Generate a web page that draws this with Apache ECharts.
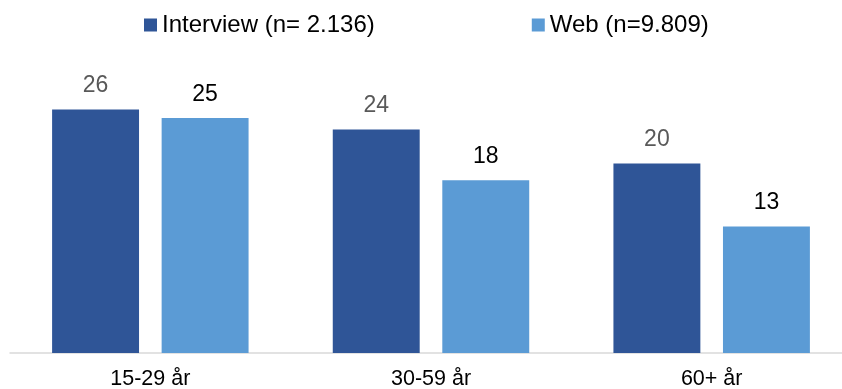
<!DOCTYPE html>
<html>
<head>
<meta charset="utf-8">
<script src="https://cdn.jsdelivr.net/npm/echarts@6/dist/echarts.min.js"></script>
<style>
  html, body { margin: 0; padding: 0; background: #fff; }
  #chart { width: 842px; height: 389px; }
</style>
</head>
<body>
<div id="chart"></div>
<script>
  // 数据
  const categories = ['15-29 år', '30-59 år', '60+ år']
  const interview = [25.8, 23.7, 20.1]
  const web = [24.9, 18.3, 13.4]
  const seriesNames = ['Interview (n= 2.136)', 'Web (n=9.809)']

  const font = 'Liberation Sans, Arial, sans-serif'
  const chart = echarts.init(document.getElementById('chart'))

  const barLabel = (color) => ({
    show: true,
    position: 'top',
    distance: 12,
    color,
    fontSize: 23,
    fontFamily: font,
    formatter: (p) => Math.round(p.value),
  })

  chart.setOption({
    animation: false,
    legend: {
      top: 8,
      left: 139,
      icon: 'rect',
      itemWidth: 13,
      itemHeight: 13,
      itemGap: 157,
      textStyle: { fontSize: 24, fontFamily: font, color: '#000' },
      data: seriesNames,
    },
    grid: { left: 10, right: -10, top: 70, bottom: 36, outerBoundsMode: 'none' },
    xAxis: {
      type: 'category',
      data: categories,
      axisLine: { lineStyle: { color: '#d9d9d9', width: 1.5 } },
      axisTick: { show: false },
      axisLabel: { fontSize: 21.5, fontFamily: font, color: '#000', margin: 15 },
    },
    yAxis: {
      type: 'value',
      min: 0,
      max: 30,
      show: false,
      splitLine: { show: false },
    },
    series: [
      {
        name: seriesNames[0],
        type: 'bar',
        data: interview,
        barGap: '26%',
        barCategoryGap: '30%',
        itemStyle: { color: '#2f5597' },
        label: barLabel('#595959'),
      },
      {
        name: seriesNames[1],
        type: 'bar',
        data: web,
        itemStyle: { color: '#5b9bd5' },
        label: barLabel('#000'),
      },
    ],
  })
</script>
</body>
</html>
